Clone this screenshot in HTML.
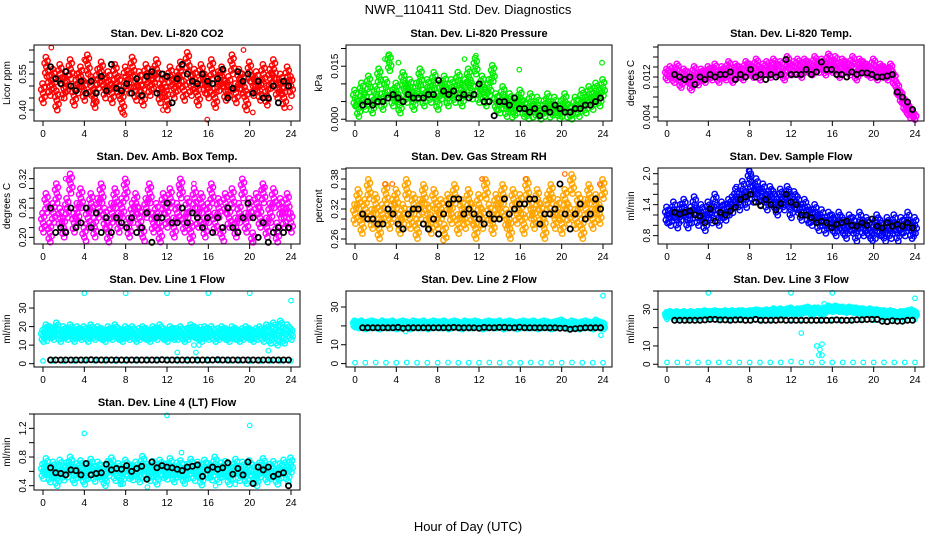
<!DOCTYPE html>
<html><head><meta charset="utf-8"><style>
html,body{margin:0;padding:0;background:#fff;}
svg{display:block;font-family:"Liberation Sans",Arial,sans-serif;}
</style></head><body>
<svg id="c" width="936" height="540" viewBox="0 0 936 540" xmlns="http://www.w3.org/2000/svg">
<rect width="936" height="540" fill="#fff"/>
<text x="468" y="14" font-size="13" text-anchor="middle">NWR_110411  Std. Dev. Diagnostics</text>
<text x="468" y="531" font-size="13" text-anchor="middle">Hour of Day (UTC)</text>
</svg>
<script>
const hourTicks=[0,4,8,12,16,20,24];
// CO2
const co2Color=[0.47,0.58,0.50,0.53,0.44,0.55,0.49,0.52,0.57,0.46,0.51,0.54,0.48,0.59,0.50,0.45,0.53,0.56,0.49,0.52,0.47,0.55,0.50,0.43,0.54,0.51,0.58,0.48,0.52,0.46,0.55,0.50,0.53,0.57,0.47,0.51,0.44,0.54,0.49,0.52,0.56,0.48,0.60,0.50,0.53,0.46,0.55,0.51,0.49,0.57,0.45,0.52,0.54,0.48,0.50,0.59,0.47,0.53,0.51,0.44,0.56,0.50,0.52,0.48,0.55,0.46,0.53,0.57,0.49,0.51,0.45,0.54,0.50];
const co2Black=[0.58,0.53,0.51,0.56,0.50,0.48,0.52,0.47,0.52,0.47,0.54,0.48,0.59,0.49,0.48,0.51,0.47,0.53,0.46,0.54,0.56,0.47,0.55,0.54,0.43,0.53,0.59,0.55,0.52,0.51,0.55,0.52,0.51,0.53,0.57,0.45,0.49,0.56,0.52,0.55,0.47,0.52,0.45,0.45,0.50,0.43,0.52,0.50];
const co2OutX=[0.8,2.2,4.0,4.9,7.9,11.6,15.9,19.4,20.3,23.9,1.8,5.1];
const co2OutY=[0.66,0.47,0.61,0.44,0.38,0.40,0.36,0.65,0.39,0.41,0.45,0.43];
// pressure
const presColor=[0.006,0.003,0.008,0.005,0.010,0.004,0.007,0.012,0.005,0.009,0.016,0.006,0.008,0.004,0.011,0.007,0.009,0.005,0.008,0.012,0.006,0.009,0.007,0.011,0.005,0.008,0.010,0.006,0.009,0.007,0.011,0.006,0.009,0.012,0.008,0.015,0.007,0.010,0.006,0.009,0.013,0.005,0.004,0.007,0.003,0.005,0.002,0.004,0.006,0.003,0.001,0.005,0.002,0.004,0.000,0.003,0.005,0.002,0.004,0.001,0.003,0.005,0.002,0.000,0.004,0.003,0.006,0.004,0.007,0.005,0.008,0.006,0.009];
const presBlack=[0.004,0.005,0.004,0.005,0.005,0.006,0.007,0.006,0.005,0.007,0.006,0.006,0.006,0.007,0.007,0.011,0.008,0.007,0.008,0.006,0.007,0.006,0.007,0.010,0.005,0.005,0.001,0.005,0.005,0.004,0.006,0.003,0.003,0.002,0.003,0.001,0.003,0.002,0.004,0.003,0.002,0.002,0.003,0.003,0.004,0.004,0.005,0.006];
const presOutX=[3.7,3.2,10.6,11.7,15.9,23.9,2.9,4.2];
const presOutY=[0.021,0.018,0.017,0.018,0.014,0.016,0.017,0.016];
// Li-820 temp
const tempColor=[0.0125,0.013,0.012,0.0135,0.011,0.0125,0.012,0.0105,0.013,0.0115,0.0125,0.012,0.013,0.0125,0.0135,0.012,0.013,0.0125,0.014,0.012,0.0135,0.013,0.0125,0.014,0.0135,0.013,0.0145,0.0125,0.0135,0.014,0.013,0.0145,0.0135,0.014,0.0125,0.015,0.0135,0.014,0.0145,0.013,0.0145,0.014,0.0135,0.015,0.014,0.0145,0.0135,0.0155,0.014,0.015,0.013,0.0145,0.014,0.0135,0.015,0.0125,0.0145,0.014,0.0135,0.013,0.0145,0.0125,0.0135,0.013,0.0125,0.0135,0.0115,0.0095,0.008,0.0065,0.0055,0.0045,0.0035];
const tempBlack=[0.0125,0.012,0.0115,0.012,0.0105,0.012,0.0115,0.0125,0.012,0.0125,0.0125,0.013,0.0115,0.0125,0.012,0.0135,0.012,0.0125,0.0115,0.0125,0.012,0.0125,0.0155,0.0125,0.0125,0.0125,0.0135,0.0125,0.013,0.015,0.0135,0.0135,0.0125,0.0125,0.012,0.013,0.0125,0.0128,0.0128,0.0125,0.012,0.012,0.0122,0.0125,0.009,0.008,0.007,0.0055];
// amb box temp
const ambColor=[0.23,0.27,0.21,0.25,0.29,0.24,0.22,0.26,0.31,0.23,0.25,0.28,0.20,0.24,0.27,0.22,0.26,0.29,0.24,0.21,0.25,0.28,0.23,0.26,0.30,0.22,0.25,0.27,0.24,0.20,0.26,0.29,0.23,0.25,0.21,0.27,0.24,0.28,0.22,0.25,0.30,0.23,0.26,0.21,0.28,0.24,0.27,0.22,0.25,0.29,0.23,0.26,0.20,0.27,0.24,0.28,0.22,0.25,0.30,0.23,0.26,0.19,0.27,0.24,0.29,0.22,0.25,0.28,0.21,0.26,0.24,0.27,0.23];
const ambBlack=[0.26,0.21,0.22,0.21,0.26,0.22,0.23,0.26,0.22,0.25,0.21,0.24,0.21,0.24,0.23,0.22,0.24,0.21,0.22,0.25,0.19,0.24,0.24,0.27,0.23,0.23,0.26,0.23,0.25,0.24,0.22,0.24,0.21,0.24,0.22,0.26,0.22,0.21,0.24,0.27,0.24,0.20,0.23,0.19,0.21,0.22,0.21,0.22];
const ambOutX=[2.2,5.9,13.2,14.6,21.3,20.2];
const ambOutY=[0.32,0.34,0.30,0.31,0.30,0.19];
// RH
const rhColor=[0.31,0.34,0.29,0.32,0.36,0.30,0.33,0.28,0.31,0.35,0.30,0.32,0.34,0.29,0.31,0.36,0.30,0.33,0.28,0.32,0.35,0.31,0.29,0.34,0.30,0.32,0.27,0.33,0.31,0.35,0.29,0.32,0.30,0.34,0.31,0.28,0.33,0.30,0.36,0.31,0.29,0.33,0.32,0.35,0.30,0.28,0.34,0.31,0.33,0.29,0.36,0.32,0.30,0.34,0.31,0.28,0.33,0.35,0.30,0.32,0.29,0.34,0.31,0.37,0.30,0.33,0.28,0.32,0.35,0.30,0.33,0.31,0.36];
const rhBlack=[0.31,0.30,0.30,0.29,0.29,0.32,0.31,0.29,0.28,0.31,0.32,0.32,0.29,0.28,0.30,0.27,0.31,0.33,0.34,0.34,0.31,0.32,0.31,0.30,0.29,0.31,0.30,0.30,0.34,0.31,0.32,0.33,0.33,0.34,0.34,0.29,0.31,0.31,0.32,0.37,0.31,0.28,0.31,0.33,0.30,0.31,0.34,0.32];
const rhOutX=[12.3,16.5,20.3,23.7,5.6,8.1,2.9,3.6];
const rhOutY=[0.38,0.38,0.39,0.37,0.25,0.25,0.37,0.37];
// sample flow
const flowColor=[1.2,1.15,1.3,1.1,1.25,1.35,1.1,1.2,1.4,1.15,1.25,1.05,1.3,1.2,1.45,1.15,1.3,1.25,1.35,1.4,1.55,1.45,1.7,1.5,1.9,1.6,1.75,1.55,1.65,1.45,1.6,1.5,1.35,1.55,1.45,1.6,1.3,1.5,1.4,1.25,1.35,1.2,1.15,1.25,1.05,1.15,1.0,1.1,1.05,0.95,1.1,1.0,0.9,1.05,1.0,0.85,1.1,0.95,1.0,0.9,0.8,1.05,0.95,0.75,1.0,0.9,1.05,0.85,1.0,0.95,1.1,0.9,1.0];
const flowBlack=[1.25,1.22,1.25,1.28,1.2,1.18,1.05,1.32,1.08,1.25,1.2,1.28,1.35,1.5,1.55,1.6,1.45,1.38,1.5,1.4,1.3,1.42,1.6,1.45,1.4,1.2,1.2,1.15,1.05,1.08,1.05,0.95,1.02,1.05,1.08,1.0,0.98,1.05,1.0,1.12,0.98,0.95,1.05,0.98,1.02,0.98,1.05,0.95];
const flowOutX=[8.0,8.2,6.7,11.9,23.9];
const flowOutY=[2.05,1.95,1.75,1.65,0.78];
// line 1
const l1High=[15,18,17,16,19,15,17,16,18,15,17,16,17,15,18,16,17,16,15,17,16,18,16,15,17,16,17,15,16,17,16,15,17,16,18,16,15,17,16,16,17,15,16,18,17,16,15,17,16,17,15,16,17,16,15,17,16,15,16,17,16,15,16,17,15,18,14,19,13,20,14,18,16];
const l1Low=[1.5,1.5,1.4,1.5,1.6,1.5,1.5,1.4,1.5,1.5,1.6,1.5,1.5,1.5,1.4,1.5,1.5,1.6,1.5,1.5,1.4,1.5,1.5,1.5,1.5];
const l1Black=[2,2,2,2,2,2,2,2,2.1,2,2,2,2,2,2,2,2,2,2,2,2,2,2.1,2,2,2,2,2,2,2,2,2,2,2.1,2,2,2,2,2,2,2,1.9,2,2,2,2,2,2];
const l1OutX=[4,8,12,16,20,24,13,14.6,14.8,15.1,15.2,21.8,0.4];
const l1OutY=[38,38,38,38,38,34,6,10,6,10,20,7,12];
// line 2
const l2High=[21,20.5,21,20,20.5,21,20.5,20,21,20.5,20.5,21,20,20.5,21,20.5,20,21,20.5,20.5,21,20,20.5,21,20.5,20.5,21,20,20.5,21,20.5,20,21,20.5,20.5,21,20.5,20,20.5,21,20.5,20.5,21,20,20.5,21,20.5,20,20.5,21,20.5,20.5,21,20,20.5,21,20.5,20,20.5,21,21.5,20.5,20,21,20.5,20,20.5,21,20.5,20,21.5,20.5,20];
const l2Low=[0.5,0.5,0.6,0.5,0.5,0.6,0.5,0.5,0.5,0.6,0.5,0.5,0.5,0.6,0.5,0.5,0.5,0.6,0.5,0.5,0.5,0.6,0.5,0.5,0.5];
const l2Black=[19,19,19,19,19,19,19,19.2,18.8,19,19,19,19,19,19,19,19,19,19.2,19,19,19,19,18.8,19.2,19,19,19.2,19.2,19,19,19.3,19,19,19,19,19,19,19,18.8,18.8,18.2,18.5,18.8,19,19,19,19];
const l2OutX=[4,8,12,16,20,24,23.8,4.9];
const l2OutY=[38,38,38,39,39,36,15,17];
// line 3
const l3High=[27,27.5,27,27.5,27,27.5,27,27.5,27,27.5,27.5,28,27.5,27.5,28,27.5,27.5,28,27.5,28,27.5,28,28,27.5,28,28,28.5,28,28,28.5,28,29,28.5,29,28.5,29,29.5,28.5,29,29,29.5,30,28,29.5,29.5,28,29.5,30.5,30,30.5,30,30,29.5,30,29.5,29.5,29,29,28.5,29,28.5,28.5,28,28,27.5,28,27.5,27,27.5,27.5,28,28.5,27.5];
const l3Mid=[24.5,24.5,24,24.5,24.5,24,24.5,24.5,24,24.5,24.5,24,24.5,24.5,24,24.5,24.5,24,24.5,24.5,24,24.5,24.5,24,24.5];
const l3Low=[1,1,1,1,1,1,1,1,1,1,1,1,1.5,1,1,1,1,1,1,1,1,1,1,1,1];
const l3Black=[24,24,24,24,24,24,24.2,24.5,24.5,24.2,24.2,24,24.2,24.3,24,24,24.5,24,24,24,24,24.2,24,24,24,24,24,24,24,24,24,24,24.2,24,24,24,24.3,24.3,24.5,24.5,24.5,23.5,23.3,23.8,23.5,23.5,24,24];
const l3OutX=[4,8,12,16,20,24,13,14.5,14.7,14.8,15,15.2,15];
const l3OutY=[39,39.5,39,39,40,36,17,10,5,8,11,33,5];
// line 4
const l4Color=[0.60,0.68,0.55,0.63,0.50,0.66,0.58,0.62,0.70,0.54,0.61,0.65,0.52,0.60,0.67,0.56,0.63,0.59,0.50,0.64,0.69,0.57,0.61,0.53,0.66,0.60,0.58,0.63,0.55,0.71,0.60,0.57,0.64,0.52,0.66,0.61,0.59,0.68,0.55,0.62,0.65,0.53,0.60,0.67,0.57,0.63,0.51,0.66,0.61,0.58,0.70,0.55,0.62,0.64,0.52,0.60,0.67,0.57,0.63,0.53,0.65,0.59,0.50,0.62,0.68,0.55,0.60,0.64,0.52,0.61,0.66,0.56,0.69];
const l4Black=[0.65,0.58,0.57,0.55,0.62,0.61,0.55,0.71,0.55,0.57,0.58,0.70,0.62,0.64,0.63,0.68,0.60,0.64,0.67,0.49,0.73,0.65,0.68,0.66,0.65,0.63,0.61,0.66,0.67,0.69,0.53,0.62,0.66,0.63,0.65,0.72,0.56,0.64,0.55,0.73,0.43,0.66,0.62,0.66,0.53,0.56,0.58,0.40];
const l4OutX=[4,12,20,13.4,10.1,7.5,16.7,18.6];
const l4OutY=[1.13,1.38,1.24,0.86,0.38,0.42,0.40,0.42];

// marker-cluster glyph (visual density of overplotted minute data), unit offsets
const clusterDX=[0,1.1,-1.1,1.7,-1.7,0.5,-0.5];
const clusterDY=[0,-1,1,0.6,-0.6,1.6,-1.6];

const panels=[
 {name:'co2',title:'Stan. Dev. Li-820 CO2',ylab:'Licor ppm',col:0,row:0,y0:0.354,y1:0.671,ticks:[0.40,0.45,0.50,0.55,0.60,0.65],labels:[0.40,0.55],dig:2,
  series:[{c:'#ff0000',y:co2Color,sp:6},{c:'#ff0000',x:co2OutX,y:co2OutY},{c:'#000',y:co2Black,b:1}]},
 {name:'pressure',title:'Stan. Dev. Li-820 Pressure',ylab:'kPa',col:1,row:0,y0:-0.0005,y1:0.021,ticks:[0,0.005,0.010,0.015,0.020],labels:[0,0.015],dig:3,
  series:[{c:'#00ee00',y:presColor,sp:5},{c:'#00ee00',x:presOutX,y:presOutY},{c:'#000',y:presBlack,b:1}]},
 {name:'li820-temp',title:'Stan. Dev. Li-820 Temp.',ylab:'degrees C',col:2,row:0,y0:0.0032,y1:0.0184,ticks:[0.004,0.006,0.008,0.010,0.012,0.014,0.016,0.018],labels:[0.004,0.012],dig:3,
  series:[{c:'#ff00ff',y:tempColor,sp:3.5},{c:'#000',y:tempBlack,b:1}]},
 {name:'amb-box-temp',title:'Stan. Dev. Amb. Box Temp.',ylab:'degrees C',col:0,row:1,y0:0.1865,y1:0.3418,ticks:[0.20,0.22,0.24,0.26,0.28,0.30,0.32],labels:[0.20,0.26,0.32],dig:2,
  series:[{c:'#ff00ff',y:ambColor,sp:6},{c:'#ff00ff',x:ambOutX,y:ambOutY},{c:'#000',y:ambBlack,b:1}]},
 {name:'gas-stream-rh',title:'Stan. Dev. Gas Stream RH',ylab:'percent',col:1,row:1,y0:0.25,y1:0.402,ticks:[0.26,0.28,0.30,0.32,0.34,0.36,0.38,0.40],labels:[0.26,0.32,0.38],dig:2,
  series:[{c:'#ffa500',y:rhColor,sp:6},{c:'#ff6a00',x:rhOutX,y:rhOutY},{c:'#000',y:rhBlack,b:1}]},
 {name:'sample-flow',title:'Stan. Dev. Sample Flow',ylab:'ml/min',col:2,row:1,y0:0.638,y1:2.11,ticks:[0.8,1.0,1.2,1.4,1.6,1.8,2.0],labels:[0.8,1.4,2.0],dig:1,
  series:[{c:'#0000ff',y:flowColor,sp:5},{c:'#0000ff',x:flowOutX,y:flowOutY},{c:'#000',y:flowBlack,b:1}]},
 {name:'line1-flow',title:'Stan. Dev. Line 1 Flow',ylab:'ml/min',col:0,row:2,y0:-1.8,y1:39.2,ticks:[0,10,20,30],labels:[0,10,20,30],dig:0,
  series:[{c:'#00ffff',y:l1High,sp:3.5},{c:'#00ffff',y:l1Low},{c:'#00ffff',x:l1OutX,y:l1OutY},{c:'#000',y:l1Black,b:1}]},
 {name:'line2-flow',title:'Stan. Dev. Line 2 Flow',ylab:'ml/min',col:1,row:2,y0:-1.8,y1:38.5,ticks:[0,10,20,30],labels:[0,10,30],dig:0,
  series:[{c:'#00ffff',y:l2High,sp:2},{c:'#00ffff',y:l2Low},{c:'#00ffff',x:l2OutX,y:l2OutY},{c:'#000',y:l2Black,b:1}]},
 {name:'line3-flow',title:'Stan. Dev. Line 3 Flow',ylab:'ml/min',col:2,row:2,y0:-1.5,y1:40,ticks:[0,10,20,30,40],labels:[0,10,30],dig:0,
  series:[{c:'#00ffff',y:l3High,sp:1.5},{c:'#00ffff',y:l3Mid},{c:'#00ffff',y:l3Low},{c:'#00ffff',x:l3OutX,y:l3OutY},{c:'#000',y:l3Black,b:1}]},
 {name:'line4-flow',title:'Stan. Dev. Line 4 (LT) Flow',ylab:'ml/min',col:0,row:3,y0:0.34,y1:1.40,ticks:[0.4,0.6,0.8,1.0,1.2,1.4],labels:[0.4,0.8,1.2],dig:1,
  series:[{c:'#00ffff',y:l4Color,sp:4.5},{c:'#00ffff',x:l4OutX,y:l4OutY},{c:'#000',y:l4Black,b:1}]}
];
const NS='http://www.w3.org/2000/svg';
const svg=document.getElementById('c');
function mk(tag,attrs,parent){const e=document.createElementNS(NS,tag);for(const k in attrs)e.setAttribute(k,attrs[k]);parent.appendChild(e);return e;}
panels.forEach(p=>{
 const L=34+312*p.col, R=300+312*p.col, T=45+123*p.row, B=T+76;
 const g=mk('g',{},svg);
 
 
 const xs=h=>L+9+h/24*(R-L-18);
 const ys=v=>B-(v-p.y0)/(p.y1-p.y0)*(B-T);
 const t=mk('text',{x:(L+R)/2,y:T-8,'font-size':11,'font-weight':'bold','text-anchor':'middle'},g);
 t.textContent=p.title;
 
 
 const yl=mk('text',{x:0,y:0,'font-size':10,'text-anchor':'middle',transform:`translate(${L-24},${(T+B)/2}) rotate(-90)`},g);
 yl.textContent=p.ylab;
 
 
 const pts=mk('g',{fill:'none'},g);
 
 
 p.series.forEach(s=>{
  const n=s.y.length;
  s.y.forEach((v,i)=>{
   const h=s.x?s.x[i]:(s.b?(i+1)*24/(n+1)+0.25:i*24/(n-1));
   const cx=xs(h), yy=ys(v);
   if(yy<T-3||yy>B+3)return;
   const k=s.sp?clusterDX.length:1;
   for(let j=0;j<k;j++){
    const px=cx+(s.sp?clusterDX[j]:0), py=yy+(s.sp?clusterDY[j]*s.sp:0);
    if(py<T+1||py>B-1)continue;
    const c=mk('circle',{cx:px.toFixed(1),cy:py.toFixed(1),r:s.b?2.6:(s.sp?2.7:2.3),stroke:s.c,'stroke-width':s.b?1.8:(s.sp?1.5:1.2)},pts);
    
    
   }
  });
 });
 const box=mk('rect',{x:L,y:T,width:R-L,height:B-T,fill:'none',stroke:'#000','stroke-width':1},g);
 
 
 const ax=mk('g',{stroke:'#000','stroke-width':1},g);
 
 
 mk('line',{x1:xs(0),x2:xs(24),y1:B,y2:B},ax);
 hourTicks.forEach(h=>{
  mk('line',{x1:xs(h),x2:xs(h),y1:B,y2:B+5},ax);
  const tx=mk('text',{x:xs(h),y:B+16,'font-size':10,'text-anchor':'middle',stroke:'none'},g);
  tx.textContent=h;
  
  
 });
 mk('line',{x1:L,x2:L,y1:ys(p.ticks[0]),y2:ys(p.ticks[p.ticks.length-1])},ax);
 p.ticks.forEach(v=>{const y=ys(v);if(y<T-2)return;mk('line',{x1:L-5,x2:L,y1:y,y2:y},ax);});
 p.labels.forEach(v=>{
  const tx=mk('text',{x:0,y:0,'font-size':10,'text-anchor':'middle',transform:`translate(${L-8},${ys(v)}) rotate(-90)`},g);
  tx.textContent=v.toFixed(p.dig);
  
  
 });
});
</script>
</body></html>
